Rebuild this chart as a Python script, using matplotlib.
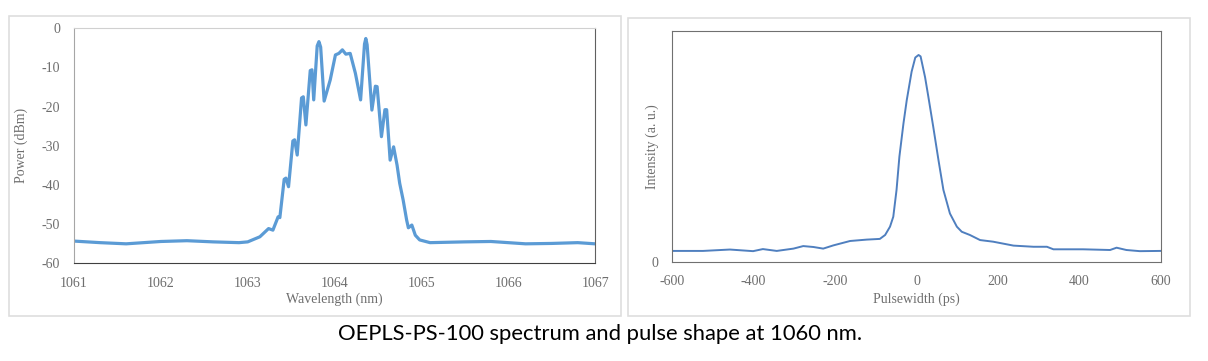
import matplotlib
matplotlib.use("Agg")
import matplotlib.pyplot as plt
from matplotlib.patches import Rectangle

plt.rcParams["axes.unicode_minus"] = False

# spectrum (wavelength nm, power dBm)
wavelength = [1061.0, 1061.3, 1061.6, 1062.0, 1062.3, 1062.6, 1062.9, 1063.0,
              1063.14, 1063.24, 1063.29, 1063.35, 1063.37, 1063.42, 1063.44,
              1063.47, 1063.52, 1063.54, 1063.57, 1063.62, 1063.64, 1063.67,
              1063.72, 1063.74, 1063.76, 1063.80, 1063.82, 1063.84, 1063.88,
              1063.95, 1064.01, 1064.05, 1064.09, 1064.13, 1064.18, 1064.24,
              1064.30, 1064.345, 1064.36, 1064.375, 1064.43, 1064.47, 1064.49,
              1064.54, 1064.58, 1064.60, 1064.64, 1064.68, 1064.72, 1064.75,
              1064.79, 1064.83, 1064.85, 1064.89, 1064.93, 1064.98, 1065.1,
              1065.5, 1065.8, 1066.2, 1066.5, 1066.8, 1067.0]
power = [-54.4, -54.8, -55.1, -54.5, -54.3, -54.6, -54.8, -54.6,
         -53.3, -51.2, -51.6, -48.2, -48.4, -38.6, -38.3,
         -40.5, -28.8, -28.5, -32.4, -17.8, -17.5, -24.7,
         -10.8, -10.6, -18.3, -4.5, -3.4, -4.8, -18.6,
         -13.2, -6.8, -6.4, -5.5, -6.6, -6.4, -11.5,
         -18.3, -4.0, -2.6, -4.2, -20.9, -14.8, -14.9,
         -27.7, -20.8, -20.8, -33.7, -30.3, -35.0, -39.6,
         -43.9, -49.0, -51.0, -50.3, -52.9, -54.1, -54.8,
         -54.6, -54.5, -55.1, -55.0, -54.8, -55.1]
wl_ticks = [1061, 1062, 1063, 1064, 1065, 1066, 1067]
db_ticks = [0, -10, -20, -30, -40, -50, -60]

# pulse shape (time ps, intensity a.u.)
pulse_t = [-597, -524, -458, -401, -377, -343, -302, -278, -253, -229, -204,
           -163, -122, -90, -77, -65, -57, -49, -42, -32, -24, -12, -3, 5,
           10, 21, 29, 41, 54, 66, 82, 99, 111, 131, 156, 188, 238, 287, 320,
           336, 409, 475, 491, 515, 548, 598]
pulse_i = [0.048, 0.048, 0.054, 0.047, 0.056, 0.048, 0.058, 0.069, 0.065,
           0.058, 0.072, 0.091, 0.097, 0.100, 0.117, 0.153, 0.196, 0.312,
           0.456, 0.600, 0.700, 0.824, 0.885, 0.896, 0.890, 0.800, 0.716,
           0.586, 0.440, 0.312, 0.210, 0.153, 0.131, 0.117, 0.095, 0.088,
           0.071, 0.066, 0.066, 0.055, 0.055, 0.052, 0.062, 0.052, 0.047,
           0.048]
ps_ticks = [-600, -400, -200, 0, 200, 400, 600]

caption = "OEPLS-PS-100 spectrum and pulse shape at 1060 nm."

serif = "Liberation Serif"
text_gray = "#6e6e6e"

fig = plt.figure(figsize=(12.08, 3.61), dpi=100)

# chart frames
for x0, w, y0, h in [(0.0075, 0.5066, 0.1247, 0.831), (0.5199, 0.4652, 0.1247, 0.8255)]:
    fig.patches.append(Rectangle((x0, y0), w, h, transform=fig.transFigure,
                                 fill=False, edgecolor="#dedede", linewidth=1.2))

# spectrum
ax1 = fig.add_axes([0.0613, 0.2715, 0.4313, 0.650])
ax1.plot(wavelength, power, color="#5b9bd5", linewidth=2.3, solid_joinstyle="round")
ax1.set_xlim(1061, 1067)
ax1.set_ylim(-60, 0)
ax1.set_xticks(wl_ticks)
ax1.set_yticks(db_ticks)
ax1.tick_params(length=0, labelcolor=text_gray, labelsize=10)
ax1.tick_params(axis="y", pad=10)
ax1.tick_params(axis="x", pad=10)
for lab in ax1.get_xticklabels() + ax1.get_yticklabels():
    lab.set_fontfamily(serif)
ax1.set_xlabel("Wavelength (nm)", fontfamily=serif, fontsize=10, color=text_gray)
ax1.set_ylabel("Power (dBm)", fontfamily=serif, fontsize=10, color=text_gray)
ax1.xaxis.set_label_coords(0.5, -0.125)
ax1.yaxis.set_label_coords(-0.088, 0.5)
ax1.spines["left"].set_color("#a6a6a6")
ax1.spines["top"].set_color("#d0d0d0")
ax1.spines["bottom"].set_color("#404040")
ax1.spines["right"].set_color("#606060")

# pulse
ax2 = fig.add_axes([0.5563, 0.2742, 0.4048, 0.640])
ax2.plot(pulse_t, pulse_i, color="#4f7fbf", linewidth=1.4)
ax2.set_xlim(-600, 600)
ax2.set_ylim(0, 1)
ax2.set_xticks(ps_ticks)
ax2.set_yticks([0])
ax2.tick_params(length=0, labelcolor=text_gray, labelsize=10)
ax2.tick_params(axis="y", pad=10)
ax2.tick_params(axis="x", pad=9)
for lab in ax2.get_xticklabels() + ax2.get_yticklabels():
    lab.set_fontfamily(serif)
ax2.set_xlabel("Pulsewidth (ps)", fontfamily=serif, fontsize=10, color=text_gray)
ax2.set_ylabel("Intensity (a. u.)", fontfamily=serif, fontsize=10, color=text_gray)
ax2.xaxis.set_label_coords(0.5, -0.13)
ax2.yaxis.set_label_coords(-0.026, 0.5)
for s in ax2.spines.values():
    s.set_color("#707070")

fig.text(0.4967, 0.074, caption, ha="center", va="center",
         fontfamily="Lato", fontsize=15.8, color="black")

fig.savefig("out.png", dpi=100)
